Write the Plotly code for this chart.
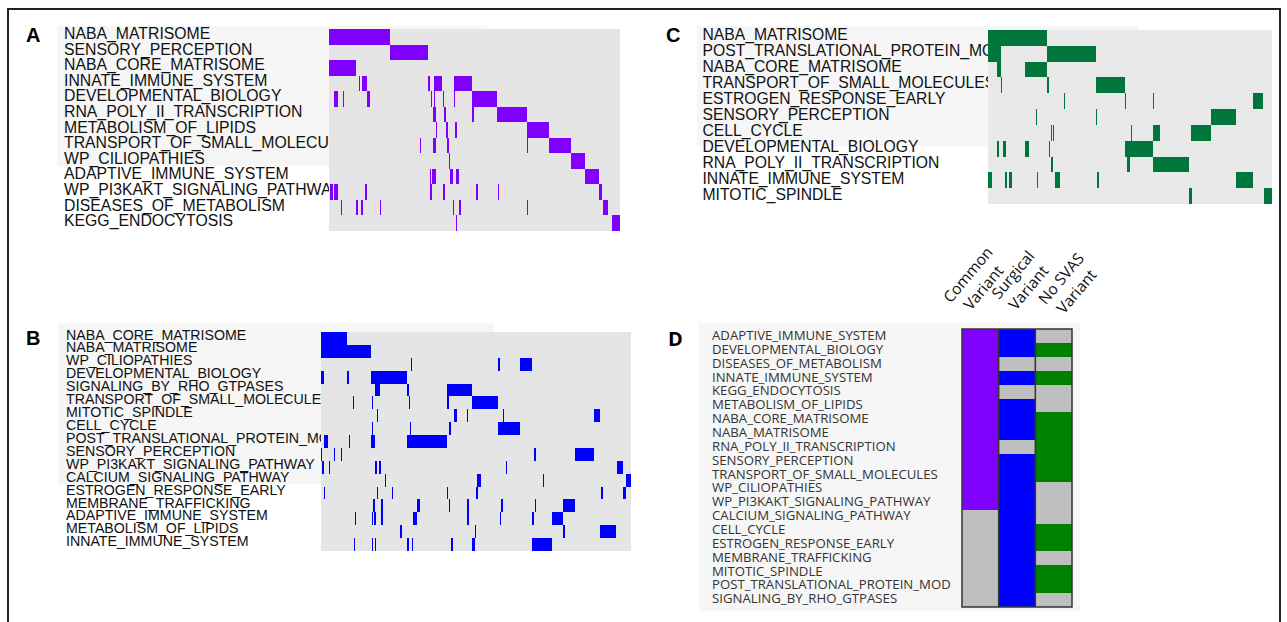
import numpy as np
import plotly.graph_objects as go

W, H = 1287, 622

# ---------------- Panel A (common variant) ----------------
a_pathways = [
    "NABA_MATRISOME", "SENSORY_PERCEPTION", "NABA_CORE_MATRISOME",
    "INNATE_IMMUNE_SYSTEM", "DEVELOPMENTAL_BIOLOGY", "RNA_POLY_II_TRANSCRIPTION",
    "METABOLISM_OF_LIPIDS", "TRANSPORT_OF_SMALL_MOLECULES", "WP_CILIOPATHIES",
    "ADAPTIVE_IMMUNE_SYSTEM", "WP_PI3KAKT_SIGNALING_PATHWAY",
    "DISEASES_OF_METABOLISM", "KEGG_ENDOCYTOSIS",
]
a_n_genes = 292
a_segments = [
    [(0, 61)],
    [(61, 99)],
    [(0, 27)],
    [(30, 31), (33, 38), (99, 101), (105, 113), (125, 143)],
    [(5, 9), (14, 15), (38, 41), (102, 103), (105, 106), (114, 115), (125, 126), (143, 169)],
    [(104, 107), (115, 117), (143, 145), (169, 199)],
    [(107, 108), (117, 119), (126, 128), (199, 221)],
    [(91, 92), (104, 107), (118, 120), (199, 200), (221, 243)],
    [(120, 121), (243, 257)],
    [(101, 102), (103, 107), (121, 124), (127, 130), (146, 147), (257, 271)],
    [(1, 4), (5, 9), (36, 38), (101, 103), (114, 116), (148, 150), (170, 171), (271, 274)],
    [(12, 13), (27, 29), (32, 34), (51, 52), (124, 125), (130, 132), (199, 200), (275, 280)],
    [(127, 128), (284, 292)],
]

# ---------------- Panel B (surgical variant) ----------------
b_pathways = [
    "NABA_CORE_MATRISOME", "NABA_MATRISOME", "WP_CILIOPATHIES",
    "DEVELOPMENTAL_BIOLOGY", "SIGNALING_BY_RHO_GTPASES",
    "TRANSPORT_OF_SMALL_MOLECULES", "MITOTIC_SPINDLE", "CELL_CYCLE",
    "POST_TRANSLATIONAL_PROTEIN_MOD", "SENSORY_PERCEPTION",
    "WP_PI3KAKT_SIGNALING_PATHWAY", "CALCIUM_SIGNALING_PATHWAY",
    "ESTROGEN_RESPONSE_EARLY", "MEMBRANE_TRAFFICKING",
    "ADAPTIVE_IMMUNE_SYSTEM", "METABOLISM_OF_LIPIDS", "INNATE_IMMUNE_SYSTEM",
]
b_n_genes = 310
b_segments = [
    [(0, 26)],
    [(0, 50)],
    [(90, 91), (177, 179), (199, 211)],
    [(0, 3), (26, 28), (50, 86)],
    [(54, 59), (86, 88), (126, 151)],
    [(32, 33), (51, 52), (88, 89), (126, 128), (151, 177)],
    [(56, 57), (133, 136), (146, 147), (182, 183), (273, 279)],
    [(51, 52), (89, 90), (128, 130), (177, 199)],
    [(3, 7), (28, 29), (50, 54), (86, 126)],
    [(0, 1), (13, 14), (20, 21), (213, 215), (254, 273)],
    [(1, 3), (8, 9), (54, 56), (58, 60), (185, 186), (296, 302)],
    [(64, 65), (156, 160), (222, 223), (305, 310)],
    [(3, 4), (56, 57), (71, 72), (126, 127), (155, 157), (280, 282), (302, 305)],
    [(52, 54), (60, 62), (96, 99), (128, 129), (146, 148), (180, 182), (214, 215), (242, 254)],
    [(34, 35), (51, 52), (53, 55), (60, 62), (92, 96), (146, 148), (179, 180), (211, 213), (231, 242)],
    [(79, 81), (154, 155), (242, 244), (279, 295)],
    [(33, 34), (51, 52), (54, 55), (86, 88), (91, 92), (130, 132), (151, 154), (211, 231)],
]

# ---------------- Panel C (no SVAS variant) ----------------
c_pathways = [
    "NABA_MATRISOME", "POST_TRANSLATIONAL_PROTEIN_MOD", "NABA_CORE_MATRISOME",
    "TRANSPORT_OF_SMALL_MOLECULES", "ESTROGEN_RESPONSE_EARLY",
    "SENSORY_PERCEPTION", "CELL_CYCLE", "DEVELOPMENTAL_BIOLOGY",
    "RNA_POLY_II_TRANSCRIPTION", "INNATE_IMMUNE_SYSTEM", "MITOTIC_SPINDLE",
]
c_n_genes = 285
c_segments = [
    [(0, 59)],
    [(0, 13), (59, 108)],
    [(9, 13), (37, 59)],
    [(13, 14), (59, 61), (108, 137)],
    [(76, 77), (137, 138), (166, 167), (266, 276)],
    [(48, 49), (108, 109), (224, 249)],
    [(63, 64), (65, 66), (144, 145), (166, 173), (204, 224)],
    [(9, 11), (15, 18), (37, 41), (61, 62), (137, 166)],
    [(63, 65), (139, 142), (166, 202)],
    [(0, 4), (17, 19), (21, 24), (49, 50), (67, 72), (109, 111), (249, 266)],
    [(202, 205), (277, 285)],
]

# ---------------- Panel D (overlap summary) ----------------
d_pathways = [
    "ADAPTIVE_IMMUNE_SYSTEM", "DEVELOPMENTAL_BIOLOGY", "DISEASES_OF_METABOLISM",
    "INNATE_IMMUNE_SYSTEM", "KEGG_ENDOCYTOSIS", "METABOLISM_OF_LIPIDS",
    "NABA_CORE_MATRISOME", "NABA_MATRISOME", "RNA_POLY_II_TRANSCRIPTION",
    "SENSORY_PERCEPTION", "TRANSPORT_OF_SMALL_MOLECULES", "WP_CILIOPATHIES",
    "WP_PI3KAKT_SIGNALING_PATHWAY", "CALCIUM_SIGNALING_PATHWAY", "CELL_CYCLE",
    "ESTROGEN_RESPONSE_EARLY", "MEMBRANE_TRAFFICKING", "MITOTIC_SPINDLE",
    "POST_TRANSLATIONAL_PROTEIN_MOD", "SIGNALING_BY_RHO_GTPASES",
]
d_groups = ["Common<br>Variant", "Surgical<br>Variant", "No SVAS<br>Variant"]
d_common = [1, 1, 1, 1, 1, 1, 1, 1, 1, 1, 1, 1, 1, 0, 0, 0, 0, 0, 0, 0]
d_surgical = [1, 1, 0, 1, 0, 1, 1, 1, 0, 1, 1, 1, 1, 1, 1, 1, 1, 1, 1, 1]
d_nosvas = [0, 1, 0, 1, 0, 0, 1, 1, 1, 1, 1, 0, 0, 0, 1, 1, 0, 1, 1, 0]

PURPLE = "#8000ff"
BLUE = "#0000ff"
GREEN_C = "#00773a"
GREEN_D = "#008000"
GRAY_D = "#bebebe"
BG_AB = "#e5e5e5"
BG_C = "#e9e9e9"
LIGHT = "#f6f6f6"


def px(x):
    return x / W


def py(y):
    return 1 - y / H


def build_z(n_rows, n_genes, segs):
    z = np.zeros((n_rows, n_genes))
    for i, row in enumerate(segs):
        for s, e in row:
            z[i, s:e] = 1
    return z


fig = go.Figure()

# label layer in pixel coordinates (drawn first so heatmaps cover overflow)
label_specs = [
    (a_pathways, 64.0, 35.0, 15.6, 15.8, "Liberation Sans, Arial, sans-serif", "#111111"),
    (b_pathways, 66.0, 336.0, 12.92, 14.2, "Liberation Sans, Arial, sans-serif", "#111111"),
    (c_pathways, 702.5, 35.7, 16.0, 15.7, "Liberation Sans, Arial, sans-serif", "#111111"),
    (d_pathways, 712.0, 336.7, 13.86, 13.2, "Open Sans, Noto Sans, sans-serif", "#333333"),
]
for names, x0, y0, dy, fs, fam, col in label_specs:
    fig.add_trace(go.Scatter(
        x=[x0] * len(names), y=[y0 + i * dy for i in range(len(names))],
        text=names, mode="text", textposition="middle right",
        textfont=dict(family=fam, size=fs, color=col),
        hoverinfo="skip", showlegend=False, xaxis="x", yaxis="y",
    ))

panels = [
    ("2", a_segments, a_pathways, a_n_genes, PURPLE, BG_AB, (329, 620, 29, 231)),
    ("3", b_segments, b_pathways, b_n_genes, BLUE, BG_AB, (321, 631, 332, 551)),
    ("4", c_segments, c_pathways, c_n_genes, GREEN_C, BG_C, (988, 1272, 30, 204)),
]
layout_axes = {}
for k, segs, names, n, col, bg, (x0, x1, y0, y1) in panels:
    z = build_z(len(names), n, segs)
    fig.add_trace(go.Heatmap(
        z=z, x=list(range(n)), y=list(range(len(names))),
        colorscale=[[0, bg], [1, col]], zmin=0, zmax=1, showscale=False,
        hoverinfo="skip", xaxis="x" + k, yaxis="y" + k,
    ))
    layout_axes["xaxis" + k] = dict(domain=[px(x0), px(x1)], range=[-0.5, n - 0.5],
                                    visible=False, fixedrange=True, anchor="y" + k)
    layout_axes["yaxis" + k] = dict(domain=[py(y1), py(y0)], range=[len(names) - 0.5, -0.5],
                                    visible=False, fixedrange=True, anchor="x" + k)

# Panel D heatmap
dz = [[c * 1, s * 2, v * 3] for c, s, v in zip(d_common, d_surgical, d_nosvas)]
fig.add_trace(go.Heatmap(
    z=dz, x=[0, 1, 2], y=list(range(len(d_pathways))),
    colorscale=[[0, GRAY_D], [0.25, GRAY_D], [0.25, PURPLE], [0.5, PURPLE],
                [0.5, BLUE], [0.75, BLUE], [0.75, GREEN_D], [1, GREEN_D]],
    zmin=0, zmax=3, showscale=False, hoverinfo="skip", xaxis="x5", yaxis="y5",
))
layout_axes["xaxis5"] = dict(domain=[px(962), px(1072)], range=[-0.5, 2.5],
                             visible=False, fixedrange=True, anchor="y5")
layout_axes["yaxis5"] = dict(domain=[py(607), py(329)], range=[len(d_pathways) - 0.5, -0.5],
                             visible=False, fixedrange=True, anchor="x5")

shapes = [
    # light label backgrounds
    dict(type="rect", xref="paper", yref="paper", x0=px(57), x1=px(487), y0=py(166), y1=py(26),
         fillcolor=LIGHT, line=dict(width=0), layer="below"),
    dict(type="rect", xref="paper", yref="paper", x0=px(58), x1=px(494), y0=py(484), y1=py(323),
         fillcolor=LIGHT, line=dict(width=0), layer="below"),
    dict(type="rect", xref="paper", yref="paper", x0=px(697), x1=px(1138), y0=py(146), y1=py(26),
         fillcolor=LIGHT, line=dict(width=0), layer="below"),
    dict(type="rect", xref="paper", yref="paper", x0=px(699), x1=px(1080), y0=py(611), y1=py(323),
         fillcolor=LIGHT, line=dict(width=0), layer="below"),
    # outer frame
    dict(type="rect", xref="paper", yref="paper", x0=px(8), x1=px(1280), y0=py(660), y1=py(9),
         line=dict(color="#222222", width=2), layer="above"),
    # panel D borders
    dict(type="rect", xref="x5 domain", yref="y5 domain", x0=0, x1=1, y0=0, y1=1,
         line=dict(color="#333333", width=1.5), layer="above"),
]
for xs in (0.5, 1.5):
    shapes.append(dict(type="line", xref="x5", yref="y5 domain", x0=xs, x1=xs, y0=0, y1=1,
                       line=dict(color="#333333", width=1.5), layer="above"))

annotations = []
for letter, (lx, ly), fam in [("A", (33, 35), "Liberation Sans, Arial"),
                               ("B", (33, 338), "Liberation Sans, Arial"),
                               ("C", (673, 35), "Liberation Sans, Arial"),
                               ("D", (675, 338), "Open Sans, Noto Sans")]:
    annotations.append(dict(text="<b>%s</b>" % letter, x=px(lx), y=py(ly), xref="paper", yref="paper",
                            showarrow=False, xanchor="center", yanchor="middle",
                            font=dict(family=fam, size=20, color="#000000")))
for g, (gx, gy) in zip(d_groups, [(975, 281), (1020, 281), (1068, 285)]):
    annotations.append(dict(text=g, x=px(gx), y=py(gy), xref="paper", yref="paper",
                            showarrow=False, textangle=-50, xanchor="center", yanchor="middle",
                            font=dict(family="Open Sans, Noto Sans", size=15.5, color="#111111")))

fig.update_layout(
    width=W, height=H, margin=dict(l=0, r=0, t=0, b=0),
    paper_bgcolor="white", plot_bgcolor="rgba(0,0,0,0)",
    xaxis=dict(domain=[0, 1], range=[0, W], visible=False, fixedrange=True),
    yaxis=dict(domain=[0, 1], range=[H, 0], visible=False, fixedrange=True),
    showlegend=False, shapes=shapes, annotations=annotations,
    **layout_axes,
)

fig.write_html("out.html", config={"displayModeBar": False, "staticPlot": True},
               post_script="document.body.style.margin='0';document.body.style.overflow='hidden';")
